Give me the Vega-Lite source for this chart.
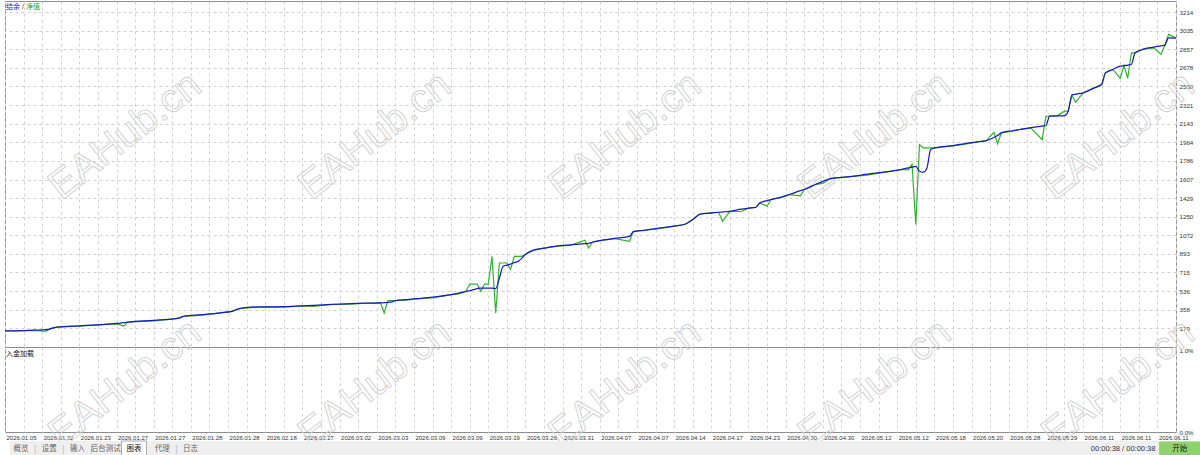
{
  "$schema": "https://vega.github.io/schema/vega-lite/v6.json",
  "background": "white",
  "padding": {"left": 2, "top": 0, "right": 0, "bottom": 0},
  "spacing": 0,
  "bounds": "flush",
  "config": {
    "font": "Liberation Sans",
    "concat": {"spacing": 0},
    "view": {"stroke": "#8c8c8c", "strokeWidth": 1},
    "axis": {
      "title": null,
      "gridColor": "#d2d2d2",
      "gridDash": [3, 3],
      "gridWidth": 1,
      "gridOpacity": 1,
      "labelColor": "#333333",
      "labelFontSize": 6.2,
      "labelFont": "Liberation Sans",
      "ticks": false,
      "domain": false,
      "labelOverlap": false,
      "labelFlush": false,
      "labelBound": false
    }
  },
  "datasets": {
    "curve": [
      {"i": 0, "balance": 155, "equity": 155},
      {"i": 5, "balance": 158, "equity": 156},
      {"i": 8, "balance": 162, "equity": 160},
      {"i": 11, "balance": 166, "equity": 150},
      {"i": 12, "balance": 172, "equity": 172},
      {"i": 13, "balance": 183, "equity": 183},
      {"i": 14, "balance": 191, "equity": 191},
      {"i": 20, "balance": 203, "equity": 200},
      {"i": 26, "balance": 214, "equity": 214},
      {"i": 30, "balance": 226, "equity": 222},
      {"i": 32, "balance": 233, "equity": 200},
      {"i": 33, "balance": 239, "equity": 239},
      {"i": 40, "balance": 256, "equity": 250},
      {"i": 46, "balance": 272, "equity": 272},
      {"i": 47, "balance": 280, "equity": 282},
      {"i": 48, "balance": 294, "equity": 294},
      {"i": 53, "balance": 310, "equity": 305},
      {"i": 58, "balance": 328, "equity": 328},
      {"i": 61, "balance": 342, "equity": 342},
      {"i": 63, "balance": 368, "equity": 368},
      {"i": 66, "balance": 383, "equity": 378},
      {"i": 70, "balance": 385, "equity": 385},
      {"i": 75, "balance": 387, "equity": 382},
      {"i": 80, "balance": 395, "equity": 395},
      {"i": 83, "balance": 400, "equity": 390},
      {"i": 88, "balance": 408, "equity": 408},
      {"i": 93, "balance": 416, "equity": 412},
      {"i": 97, "balance": 420, "equity": 420},
      {"i": 101, "balance": 424, "equity": 424},
      {"i": 102, "balance": 425, "equity": 326},
      {"i": 103, "balance": 427, "equity": 445},
      {"i": 104, "balance": 432, "equity": 445},
      {"i": 105, "balance": 445, "equity": 445},
      {"i": 108, "balance": 454, "equity": 450},
      {"i": 111, "balance": 464, "equity": 464},
      {"i": 115, "balance": 478, "equity": 470},
      {"i": 120, "balance": 502, "equity": 502},
      {"i": 122, "balance": 516, "equity": 510},
      {"i": 124, "balance": 534, "equity": 534},
      {"i": 125, "balance": 540, "equity": 604},
      {"i": 127, "balance": 560, "equity": 604},
      {"i": 128, "balance": 566, "equity": 534},
      {"i": 129, "balance": 566, "equity": 604},
      {"i": 130, "balance": 566, "equity": 604},
      {"i": 131, "balance": 566, "equity": 870},
      {"i": 132, "balance": 560, "equity": 326},
      {"i": 133, "balance": 662, "equity": 806},
      {"i": 134, "balance": 774, "equity": 806},
      {"i": 135, "balance": 785, "equity": 806},
      {"i": 136, "balance": 796, "equity": 745},
      {"i": 137, "balance": 810, "equity": 870},
      {"i": 138, "balance": 822, "equity": 870},
      {"i": 139, "balance": 850, "equity": 870},
      {"i": 140, "balance": 889, "equity": 889},
      {"i": 142, "balance": 928, "equity": 925},
      {"i": 145, "balance": 948, "equity": 948},
      {"i": 148, "balance": 966, "equity": 966},
      {"i": 152, "balance": 980, "equity": 975},
      {"i": 156, "balance": 992, "equity": 1024},
      {"i": 157, "balance": 995, "equity": 950},
      {"i": 158, "balance": 1005, "equity": 1005},
      {"i": 160, "balance": 1021, "equity": 1021},
      {"i": 164, "balance": 1042, "equity": 1040},
      {"i": 168, "balance": 1062, "equity": 1014},
      {"i": 169, "balance": 1105, "equity": 1110},
      {"i": 172, "balance": 1120, "equity": 1120},
      {"i": 175, "balance": 1136, "equity": 1130},
      {"i": 180, "balance": 1160, "equity": 1160},
      {"i": 183, "balance": 1180, "equity": 1175},
      {"i": 185, "balance": 1223, "equity": 1223},
      {"i": 187, "balance": 1276, "equity": 1276},
      {"i": 190, "balance": 1285, "equity": 1290},
      {"i": 192, "balance": 1293, "equity": 1293},
      {"i": 193, "balance": 1296, "equity": 1206},
      {"i": 195, "balance": 1302, "equity": 1302},
      {"i": 198, "balance": 1322, "equity": 1300},
      {"i": 200, "balance": 1332, "equity": 1332},
      {"i": 202, "balance": 1341, "equity": 1341},
      {"i": 203, "balance": 1382, "equity": 1382},
      {"i": 205, "balance": 1405, "equity": 1350},
      {"i": 206, "balance": 1415, "equity": 1415},
      {"i": 209, "balance": 1440, "equity": 1435},
      {"i": 211, "balance": 1463, "equity": 1463},
      {"i": 214, "balance": 1500, "equity": 1450},
      {"i": 215, "balance": 1511, "equity": 1511},
      {"i": 218, "balance": 1559, "equity": 1559},
      {"i": 220, "balance": 1590, "equity": 1570},
      {"i": 222, "balance": 1616, "equity": 1616},
      {"i": 225, "balance": 1627, "equity": 1627},
      {"i": 228, "balance": 1638, "equity": 1638},
      {"i": 232, "balance": 1658, "equity": 1650},
      {"i": 237, "balance": 1680, "equity": 1680},
      {"i": 241, "balance": 1703, "equity": 1703},
      {"i": 243, "balance": 1718, "equity": 1700},
      {"i": 244, "balance": 1725, "equity": 1754},
      {"i": 245, "balance": 1734, "equity": 1175},
      {"i": 246, "balance": 1686, "equity": 1943},
      {"i": 247, "balance": 1677, "equity": 1910},
      {"i": 248, "balance": 1718, "equity": 1910},
      {"i": 249, "balance": 1895, "equity": 1910},
      {"i": 250, "balance": 1910, "equity": 1910},
      {"i": 255, "balance": 1933, "equity": 1930},
      {"i": 258, "balance": 1950, "equity": 1945},
      {"i": 262, "balance": 1970, "equity": 1970},
      {"i": 264, "balance": 1981, "equity": 1981},
      {"i": 266, "balance": 2010, "equity": 2060},
      {"i": 267, "balance": 2030, "equity": 1950},
      {"i": 268, "balance": 2054, "equity": 2054},
      {"i": 271, "balance": 2075, "equity": 2070},
      {"i": 273, "balance": 2087, "equity": 2087},
      {"i": 276, "balance": 2105, "equity": 2100},
      {"i": 279, "balance": 2120, "equity": 1990},
      {"i": 280, "balance": 2123, "equity": 2214},
      {"i": 281, "balance": 2215, "equity": 2214},
      {"i": 283, "balance": 2218, "equity": 2218},
      {"i": 285, "balance": 2221, "equity": 2263},
      {"i": 286, "balance": 2263, "equity": 2263},
      {"i": 287, "balance": 2416, "equity": 2416},
      {"i": 288, "balance": 2425, "equity": 2349},
      {"i": 290, "balance": 2438, "equity": 2438},
      {"i": 293, "balance": 2486, "equity": 2486},
      {"i": 295, "balance": 2519, "equity": 2519},
      {"i": 296, "balance": 2630, "equity": 2630},
      {"i": 298, "balance": 2663, "equity": 2663},
      {"i": 300, "balance": 2695, "equity": 2579},
      {"i": 301, "balance": 2700, "equity": 2700},
      {"i": 302, "balance": 2705, "equity": 2579},
      {"i": 303, "balance": 2711, "equity": 2823},
      {"i": 304, "balance": 2823, "equity": 2823},
      {"i": 306, "balance": 2855, "equity": 2855},
      {"i": 309, "balance": 2877, "equity": 2870},
      {"i": 311, "balance": 2890, "equity": 2807},
      {"i": 312, "balance": 2897, "equity": 2897},
      {"i": 313, "balance": 2967, "equity": 2999},
      {"i": 315, "balance": 2964, "equity": 2964}
    ],
    "wm_top": [
      {"wm": "EAHub.cn", "i": 32.3, "v": 2025},
      {"wm": "EAHub.cn", "i": 99.5, "v": 2025},
      {"wm": "EAHub.cn", "i": 166.8, "v": 2025},
      {"wm": "EAHub.cn", "i": 234, "v": 2025},
      {"wm": "EAHub.cn", "i": 299.5, "v": 2025}
    ],
    "wm_bottom": [
      {"wm": "EAHub.cn", "i": 32.3, "v": 0.0057},
      {"wm": "EAHub.cn", "i": 99.5, "v": 0.0057},
      {"wm": "EAHub.cn", "i": 166.8, "v": 0.0057},
      {"wm": "EAHub.cn", "i": 234, "v": 0.0057},
      {"wm": "EAHub.cn", "i": 299.5, "v": 0.0057}
    ],
    "tabs": [
      {"tab": "概览", "k": 0},
      {"tab": "设置", "k": 1},
      {"tab": "输入", "k": 2},
      {"tab": "后台测试", "k": 3},
      {"tab": "图表", "k": 4},
      {"tab": "代理", "k": 5},
      {"tab": "日志", "k": 6}
    ],
    "status": [{"label": "00:00:38 / 00:00:38", "k": 39}],
    "button": [{"label": "开始", "k": 41}]
  },
  "vconcat": [
    {
      "width": 1171,
      "height": 346,
      "layer": [
        {
          "data": {"name": "wm_top"},
          "mark": {"type": "text", "angle": -38, "fontSize": 40, "font": "Liberation Sans", "fillOpacity": 0, "stroke": "#d0d0d0", "strokeWidth": 0.9, "align": "center", "baseline": "middle"},
          "encoding": {
            "x": {"field": "i", "type": "quantitative", "scale": {"domain": [0, 315], "nice": false, "zero": false},
              "axis": {"orient": "bottom", "labels": false, "grid": true, "tickCount": 200, "values": [0,5,10,15,20,25,30,35,40,45,50,55,60,65,70,75,80,85,90,95,100,105,110,115,120,125,130,135,140,145,150,155,160,165,170,175,180,185,190,195,200,205,210,215,220,225,230,235,240,245,250,255,260,265,270,275,280,285,290,295,300,305,310,315]}},
            "y": {"field": "v", "type": "quantitative", "scale": {"domain": [0, 3320], "nice": false, "zero": false},
              "axis": {"orient": "right", "grid": true, "format": "d", "labelPadding": 3, "labelBaseline": "middle", "labelOverlap": false, "tickCount": 100, "values": [179,358,536,715,893,1072,1250,1429,1607,1786,1964,2143,2321,2500,2678,2857,3035,3214]}},
            "text": {"field": "wm"}
          }
        },
        {
          "data": {"name": "curve"},
          "mark": {"type": "line", "color": "#2db52d", "strokeWidth": 1.2},
          "encoding": {
            "x": {"field": "i", "type": "quantitative"},
            "y": {"field": "equity", "type": "quantitative"}
          }
        },
        {
          "data": {"name": "curve"},
          "mark": {"type": "line", "color": "#1c1cb4", "strokeWidth": 1.25, "interpolate": "monotone"},
          "encoding": {
            "x": {"field": "i", "type": "quantitative"},
            "y": {"field": "balance", "type": "quantitative"}
          }
        },
        {
          "data": {"values": [{"t": "结余"}]},
          "mark": {"type": "text", "align": "left", "baseline": "top", "dx": 1, "dy": 2, "font": "Noto Sans CJK SC", "fontSize": 7, "color": "#2222aa"},
          "encoding": {"x": {"datum": 0}, "y": {"datum": 3320}, "text": {"field": "t"}}
        },
        {
          "data": {"values": [{"t": "/"}]},
          "mark": {"type": "text", "align": "left", "baseline": "top", "dx": 17, "dy": 2, "font": "Liberation Sans", "fontSize": 7, "color": "#333333"},
          "encoding": {"x": {"datum": 0}, "y": {"datum": 3320}, "text": {"field": "t"}}
        },
        {
          "data": {"values": [{"t": "净值"}]},
          "mark": {"type": "text", "align": "left", "baseline": "top", "dx": 21, "dy": 2, "font": "Noto Sans CJK SC", "fontSize": 7, "color": "#22a322"},
          "encoding": {"x": {"datum": 0}, "y": {"datum": 3320}, "text": {"field": "t"}}
        }
      ]
    },
    {
      "width": 1171,
      "height": 85,
      "layer": [
        {
          "data": {"name": "wm_bottom"},
          "mark": {"type": "text", "angle": -38, "fontSize": 40, "font": "Liberation Sans", "fillOpacity": 0, "stroke": "#d0d0d0", "strokeWidth": 0.9, "align": "center", "baseline": "middle"},
          "encoding": {
            "x": {"field": "i", "type": "quantitative", "scale": {"domain": [0, 315], "nice": false, "zero": false},
              "axis": {"orient": "bottom", "grid": true, "labelAlign": "left", "labelBaseline": "top", "labelPadding": 2, "labelOffset": 1, "labelFontSize": 6, "labelOverlap": false, "tickCount": 200,
                "values": [0,5,10,15,20,25,30,35,40,45,50,55,60,65,70,75,80,85,90,95,100,105,110,115,120,125,130,135,140,145,150,155,160,165,170,175,180,185,190,195,200,205,210,215,220,225,230,235,240,245,250,255,260,265,270,275,280,285,290,295,300,305,310,315],
                "labelExpr": "datum.value % 10 == 0 ? ['2026.01.05','2026.01.22','2026.01.23','2026.01.27','2026.01.27','2026.01.28','2026.01.28','2026.02.18','2026.02.27','2026.03.02','2026.03.03','2026.03.09','2026.03.09','2026.03.19','2026.03.26','2026.03.31','2026.04.07','2026.04.07','2026.04.14','2026.04.17','2026.04.23','2026.04.30','2026.04.30','2026.05.12','2026.05.12','2026.05.18','2026.05.20','2026.05.28','2026.05.29','2026.06.11','2026.06.11','2026.06.11'][datum.value / 10] : ''"}},
            "y": {"field": "v", "type": "quantitative", "scale": {"domain": [0, 0.01], "nice": false, "zero": false},
              "axis": {"orient": "right", "grid": false, "format": ".1%", "labelPadding": 3, "values": [0, 0.01], "labelOverlap": false, "tickCount": 10,
                "labelBaseline": {"condition": {"test": "datum.value > 0", "value": "top"}, "value": "middle"}}},
            "text": {"field": "wm"}
          }
        },
        {
          "data": {"values": [{"t": "入金加载"}]},
          "mark": {"type": "text", "align": "left", "baseline": "top", "dx": 1, "dy": 3, "font": "Noto Sans CJK SC", "fontSize": 7, "color": "#111111"},
          "encoding": {"x": {"datum": 0}, "y": {"datum": 0.01}, "text": {"field": "t"}}
        }
      ]
    },
    {
      "width": 1198,
      "height": 24,
      "view": {"stroke": null},
      "layer": [
        {
          "data": {"values": [{"part": "bar"}]},
          "mark": {"type": "rect", "fill": "#efefef"},
          "encoding": {
            "x": {"datum": -0.386, "type": "quantitative", "scale": {"domain": [-0.386, 41.65], "nice": false, "zero": false}, "axis": null},
            "x2": {"datum": 41.65},
            "y": {"datum": 15, "type": "quantitative", "scale": {"domain": [0, 24], "nice": false, "zero": false}, "axis": null},
            "y2": {"datum": 0}
          }
        },
        {
          "data": {"name": "tabs"},
          "transform": [{"filter": "datum.tab == '图表'"}],
          "mark": {"type": "bar", "orient": "vertical", "size": 25, "fill": "#ffffff", "stroke": "#a8a8a8", "strokeWidth": 1},
          "encoding": {
            "x": {"field": "k", "type": "quantitative"},
            "y": {"datum": 15, "type": "quantitative"},
            "y2": {"datum": 0}
          }
        },
        {
          "data": {"name": "button"},
          "mark": {"type": "bar", "orient": "vertical", "size": 41, "fill": "#8fd16a"},
          "encoding": {
            "x": {"field": "k", "type": "quantitative"},
            "y": {"datum": 14.5, "type": "quantitative"},
            "y2": {"datum": 0}
          }
        },
        {
          "data": {"name": "tabs"},
          "transform": [{"filter": "datum.k == 0 || datum.k == 1 || datum.k == 2 || datum.k == 5"}],
          "mark": {"type": "text", "text": "|", "dx": 14.25, "font": "Liberation Sans", "fontSize": 9, "align": "center", "baseline": "middle", "color": "#c0c0c0"},
          "encoding": {
            "x": {"field": "k", "type": "quantitative"},
            "y": {"datum": 7.5, "type": "quantitative"}
          }
        },
        {
          "data": {"name": "tabs"},
          "mark": {"type": "text", "font": "Noto Sans CJK SC", "fontSize": 7.5, "align": "center", "baseline": "middle"},
          "encoding": {
            "x": {"field": "k", "type": "quantitative"},
            "y": {"datum": 7.5, "type": "quantitative"},
            "text": {"field": "tab"},
            "color": {"condition": {"test": "datum.tab == '图表'", "value": "#111111"}, "value": "#666666"}
          }
        },
        {
          "data": {"name": "status"},
          "mark": {"type": "text", "font": "Liberation Sans", "fontSize": 7.5, "align": "center", "baseline": "middle", "color": "#333333"},
          "encoding": {
            "x": {"field": "k", "type": "quantitative"},
            "y": {"datum": 7.5, "type": "quantitative"},
            "text": {"field": "label"}
          }
        },
        {
          "data": {"name": "button"},
          "mark": {"type": "text", "font": "Noto Sans CJK SC", "fontSize": 7.5, "align": "center", "baseline": "middle", "color": "#222222"},
          "encoding": {
            "x": {"field": "k", "type": "quantitative"},
            "y": {"datum": 7.5, "type": "quantitative"},
            "text": {"field": "label"}
          }
        }
      ]
    }
  ]
}
